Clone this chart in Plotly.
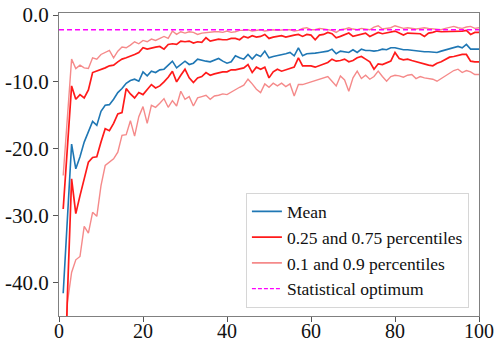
import plotly.graph_objects as go

x = list(range(1, 101))

mean = [-41.6, -30.5, -19.3, -23.0, -21.2, -19.0, -17.5, -15.9, -16.5, -14.4,
        -13.5, -13.4, -12.6, -11.6, -11.0, -10.2, -9.8, -9.6, -9.9, -8.5,
        -9.1, -8.4, -8.6, -8.2, -8.1, -7.5, -6.9, -7.9, -7.4, -6.9,
        -7.4, -7.2, -6.6, -6.8, -6.9, -7.0, -6.8, -6.5, -6.9, -7.2,
        -7.0, -6.1, -6.4, -6.6, -5.9, -6.6, -5.9, -6.2, -5.4, -6.4,
        -6.2, -6.1, -6.0, -5.8, -5.6, -6.1, -4.9, -6.1, -5.8, -5.8,
        -5.7, -5.6, -5.5, -5.4, -5.1, -5.8, -5.4, -5.5, -5.6, -5.2,
        -5.6, -5.1, -5.3, -5.3, -5.4, -5.3, -5.1, -5.2, -4.9, -4.9,
        -5.1, -5.2, -5.2, -5.3, -5.4, -5.4, -5.5, -5.5, -5.6, -5.6,
        -5.4, -5.2, -5.0, -4.8, -4.7, -4.9, -4.4, -5.1, -5.1, -5.1]

p75 = [-29.0, -20.0, -10.6, -12.6, -11.9, -12.4, -11.2, -8.6, -8.4, -8.2,
       -7.9, -7.6, -7.5, -7.0, -6.6, -6.4, -6.2, -5.9, -5.6, -4.9,
       -5.1, -4.9, -4.8, -4.7, -5.1, -4.4, -4.3, -4.4, -3.9, -4.0,
       -3.9, -4.2, -4.0, -4.1, -3.4, -3.9, -3.8, -3.6, -3.7, -3.7,
       -3.5, -3.5, -3.7, -3.2, -3.4, -3.1, -3.3, -3.2, -2.9, -3.5,
       -3.3, -3.2, -3.1, -3.3, -3.1, -3.0, -2.9, -3.2, -2.9, -3.0,
       -3.7, -3.0, -2.9, -2.6, -2.8, -3.4, -3.2, -2.9, -2.7, -3.2,
       -3.0, -2.8, -2.7, -3.2, -2.9, -2.6, -2.8, -2.7, -2.5, -2.4,
       -2.7, -3.0, -2.7, -2.7, -2.7, -2.8, -3.2, -2.7, -2.6, -2.4,
       -2.5, -2.5, -2.4, -2.4, -2.4, -2.4, -2.3, -2.9, -2.6, -2.6]

p25 = [-64.0, -42.0, -24.5, -29.7, -27.0, -24.5, -22.0, -21.3, -21.2, -19.0,
       -17.0, -17.3, -16.2, -14.8, -14.6, -11.0, -11.8, -12.4, -11.6, -11.9,
       -11.1, -10.4, -10.9, -10.6, -10.0, -9.3, -8.4, -10.0, -9.0, -8.1,
       -9.4, -10.1, -9.4, -9.2, -8.6, -9.0, -8.8, -8.6, -8.5, -8.5,
       -8.2, -8.2, -8.0, -7.9, -7.4, -8.6, -7.8, -8.1, -7.8, -9.4,
       -8.5, -8.1, -8.4, -8.2, -8.0, -7.8, -6.4, -7.6, -7.6, -7.6,
       -7.8, -7.6, -7.3, -7.1, -6.6, -6.9, -6.8, -6.6, -7.0, -6.8,
       -6.4, -6.2, -6.6, -7.0, -8.1, -7.3, -7.4, -7.2, -6.9, -5.6,
       -6.5, -6.7, -6.6, -6.8, -7.0, -7.2, -7.3, -7.5, -7.6, -7.2,
       -7.0, -6.7, -6.3, -6.2, -6.0, -5.9, -5.9, -6.9, -7.0, -7.0]

p90 = [-24.0, -15.0, -6.6, -8.0, -7.5, -7.9, -8.0, -6.4, -6.6, -5.9,
       -5.6, -5.3, -6.4, -5.4, -4.8, -4.9, -4.5, -4.0, -4.3, -3.8,
       -4.0, -3.6, -3.8, -3.5, -3.2, -3.5, -2.4, -2.9, -2.5, -2.7,
       -2.5, -2.6, -2.9, -2.7, -2.6, -2.5, -2.5, -2.5, -2.6, -2.4,
       -2.6, -2.5, -2.3, -2.3, -2.2, -2.4, -2.3, -2.2, -2.4, -2.3,
       -2.2, -2.3, -2.2, -2.2, -2.2, -2.4, -2.3, -2.0, -1.9, -2.2,
       -2.2, -2.0, -2.1, -2.2, -2.3, -2.6, -2.2, -2.1, -1.9, -2.1,
       -2.2, -2.0, -2.1, -2.2, -1.8, -1.6, -2.1, -2.0, -1.9, -1.6,
       -1.8, -2.0, -1.9, -2.0, -2.1, -2.0, -1.9, -2.0, -2.1, -2.2,
       -2.2, -2.0, -1.8, -1.7, -1.9, -2.0, -1.8, -1.7, -2.0, -1.9]

p10 = [-66.0, -43.0, -38.5, -36.6, -36.1, -31.6, -32.6, -29.5, -30.1, -25.5,
       -22.5, -22.0, -21.5, -20.5, -18.0, -17.9, -15.8, -18.1, -15.2, -13.7,
       -16.2, -13.5, -13.8, -13.2, -12.5, -13.8, -12.8, -13.6, -11.4, -12.6,
       -12.2, -13.6, -12.4, -12.2, -12.0, -12.6, -12.1, -12.0, -11.8, -11.9,
       -11.5, -11.1, -10.8, -10.5, -9.6, -10.3, -11.1, -11.6, -10.3, -10.8,
       -10.2, -10.6, -10.2, -10.7, -10.3, -12.1, -10.4, -10.4, -10.2, -10.0,
       -9.9, -9.6, -9.4, -9.2, -9.9, -10.6, -9.1, -9.7, -11.4, -9.4,
       -8.4, -9.5, -9.0, -9.6, -9.2, -8.4, -9.2, -9.9, -9.2, -9.0,
       -9.1, -9.3, -9.0, -8.9, -9.5, -9.2, -9.4, -9.5, -9.6, -9.9,
       -9.5, -9.0, -8.7, -8.3, -8.1, -8.6, -8.3, -8.5, -8.9, -8.9]

optimum_x = [0, 100]
optimum_y = [-2.2, -2.2]

y_tickvals = [0, -10, -20, -30, -40]
y_ticktext = ["0.0", "-10.0", "-20.0", "-30.0", "-40.0"]
x_tickvals = [0, 20, 40, 60, 80, 100]

names = ["Mean", "0.25 and 0.75 percentiles", "0.1 and 0.9 percentiles", "Statistical optimum"]

RED = "#ff1a1a"
PINK = "#f58a8a"
BLUE = "#1f77b4"
MAG = "#ff00ff"
SERIF = "Liberation Serif"

fig = go.Figure()
fig.add_trace(go.Scatter(x=x, y=p10, mode="lines", line=dict(color=PINK, width=1.4),
                         name=names[2], showlegend=False))
fig.add_trace(go.Scatter(x=x, y=p90, mode="lines", line=dict(color=PINK, width=1.4),
                         name=names[2], showlegend=False))
fig.add_trace(go.Scatter(x=x, y=p25, mode="lines", line=dict(color=RED, width=1.7),
                         name=names[1], showlegend=False))
fig.add_trace(go.Scatter(x=x, y=p75, mode="lines", line=dict(color=RED, width=1.7),
                         name=names[1], showlegend=False))
fig.add_trace(go.Scatter(x=x, y=mean, mode="lines", line=dict(color=BLUE, width=1.6),
                         name=names[0], showlegend=False))
fig.add_trace(go.Scatter(x=optimum_x, y=optimum_y, mode="lines",
                         line=dict(color=MAG, width=1.6, dash="5px,3px"),
                         name=names[3], showlegend=False))

# legend entries in the desired order
fig.add_trace(go.Scatter(x=[None], y=[None], mode="lines", line=dict(color=BLUE, width=1.6), name=names[0]))
fig.add_trace(go.Scatter(x=[None], y=[None], mode="lines", line=dict(color=RED, width=1.8), name=names[1]))
fig.add_trace(go.Scatter(x=[None], y=[None], mode="lines", line=dict(color=PINK, width=1.8), name=names[2]))
fig.add_trace(go.Scatter(x=[None], y=[None], mode="lines", line=dict(color=MAG, width=1.3, dash="4px,2px"), name=names[3]))

axis_common = dict(showgrid=False, zeroline=False, showline=True, linecolor="#808080", linewidth=1,
                   mirror=True, ticks="outside", tickcolor="#555555", automargin=False)

fig.update_layout(
    width=495, height=343,
    margin=dict(l=59, r=16, t=13, b=27, autoexpand=False),
    paper_bgcolor="white", plot_bgcolor="white",
    font=dict(family=SERIF, color="#111111"),
    xaxis=dict(range=[0, 100], tickvals=x_tickvals, ticklen=5, ticklabelstandoff=-8,
               tickfont=dict(family=SERIF, size=20, color="#111111"), **axis_common),
    yaxis=dict(range=[-45, 0.3], tickvals=y_tickvals, ticktext=y_ticktext, ticklen=5,
               tickfont=dict(family=SERIF, size=21, color="#111111"), **axis_common),
    legend=dict(x=0.976, y=0.028, xanchor="right", yanchor="bottom",
                bgcolor="rgba(255,255,255,0.85)", bordercolor="#d6d6d6", borderwidth=1,
                font=dict(family=SERIF, size=17.5, color="#111111"),
                tracegroupgap=0, itemwidth=30),
    showlegend=True,
)

fig.write_html("out.html")
